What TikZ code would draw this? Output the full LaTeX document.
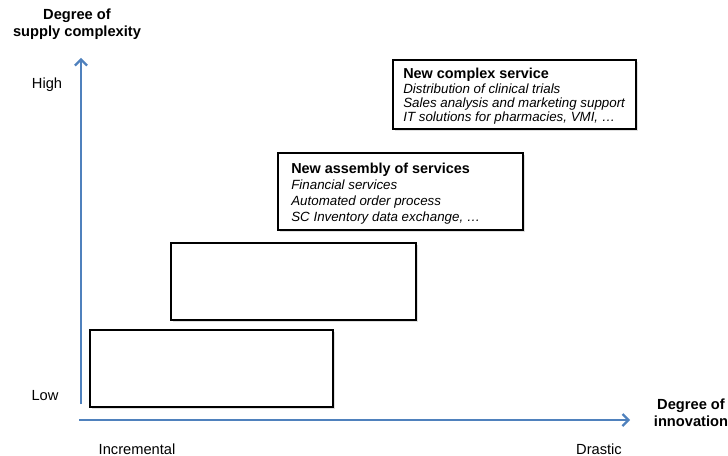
\documentclass[tikz,border=0pt]{standalone}
\usepackage{fontspec}
\setmainfont{Liberation Sans}
\usetikzlibrary{arrows.meta,positioning,shadows}
\definecolor{axisblue}{RGB}{79,129,189}
\newcommand{\boxtitle}[1]{{\fontsize{10.8}{12}\selectfont\bfseries #1}}
\tikzset{
  axis/.style={draw=axisblue, line width=1.8pt, -{Straight Barb[length=4.5pt,width=9pt,line width=1.6pt]}},
  stagebox/.style={draw=black, line width=1.4pt, fill=white, rectangle, inner sep=0pt,
    drop shadow={shadow xshift=1.2pt, shadow yshift=-1.2pt, opacity=0.25}},
  boxtext/.style={inner sep=0pt, align=left, anchor=west, font=\fontsize{10}{12}\selectfont},
  axislabel/.style={inner sep=0pt, align=center, font=\fontsize{11}{13}\selectfont},
}
\begin{document}
\begin{tikzpicture}[x=0.75pt, y=-0.75pt]
  \useasboundingbox (0,0) rectangle (728,456);
  % axes
  \coordinate (ybot) at (81,404);
  \coordinate (ytop) at (81,58);
  \coordinate (xleft) at (79,420);
  \coordinate (xright) at (630,420);
  \draw[axis] (ybot) -- (ytop);
  \draw[axis] (xleft) -- (xright);
  \node[axislabel, font=\fontsize{11}{13}\selectfont\bfseries] (ylab) at (77,24.5) {Degree of\\supply complexity};
  \node[axislabel, font=\fontsize{11}{13}\selectfont\bfseries] (xlab) at (691,412.5) {Degree of\\innovation};
  \node[axislabel] (high) at (47,85) {High};
  \node[axislabel] (low) at (45,396) {Low};
  \node[axislabel] (incr) at (137,449) {Incremental};
  \node[axislabel] (drastic) at (599,449) {Drastic};
  % stages
  \node[stagebox, minimum width=182.25pt, minimum height=57.75pt] (b1) at (211.5,368.5) {};
  \node[stagebox, minimum width=183.75pt, minimum height=57.75pt] (b2) at (293.5,281.5) {};
  \node[stagebox, minimum width=183.75pt, minimum height=57.75pt] (b3) at (400.5,191.5) {};
  \node[stagebox, minimum width=182.25pt, minimum height=51.75pt] (b4) at (514.5,94.5) {};
  \node[boxtext, right=10.5pt of b3.west, yshift=-1.5pt] (t3) {\boxtitle{New assembly of services}\\
    \textit{Financial services}\\
    \textit{Automated order process}\\
    \textit{SC Inventory data exchange, \ldots}};
  \node[boxtext, font=\fontsize{10}{10.8}\selectfont, right=8.25pt of b4.west, yshift=-1.5pt] (t4) {\boxtitle{New complex service}\\
    \textit{Distribution of clinical trials}\\
    \textit{Sales analysis and marketing support}\\
    \textit{IT solutions for pharmacies, VMI, \ldots}};
\end{tikzpicture}
\end{document}
